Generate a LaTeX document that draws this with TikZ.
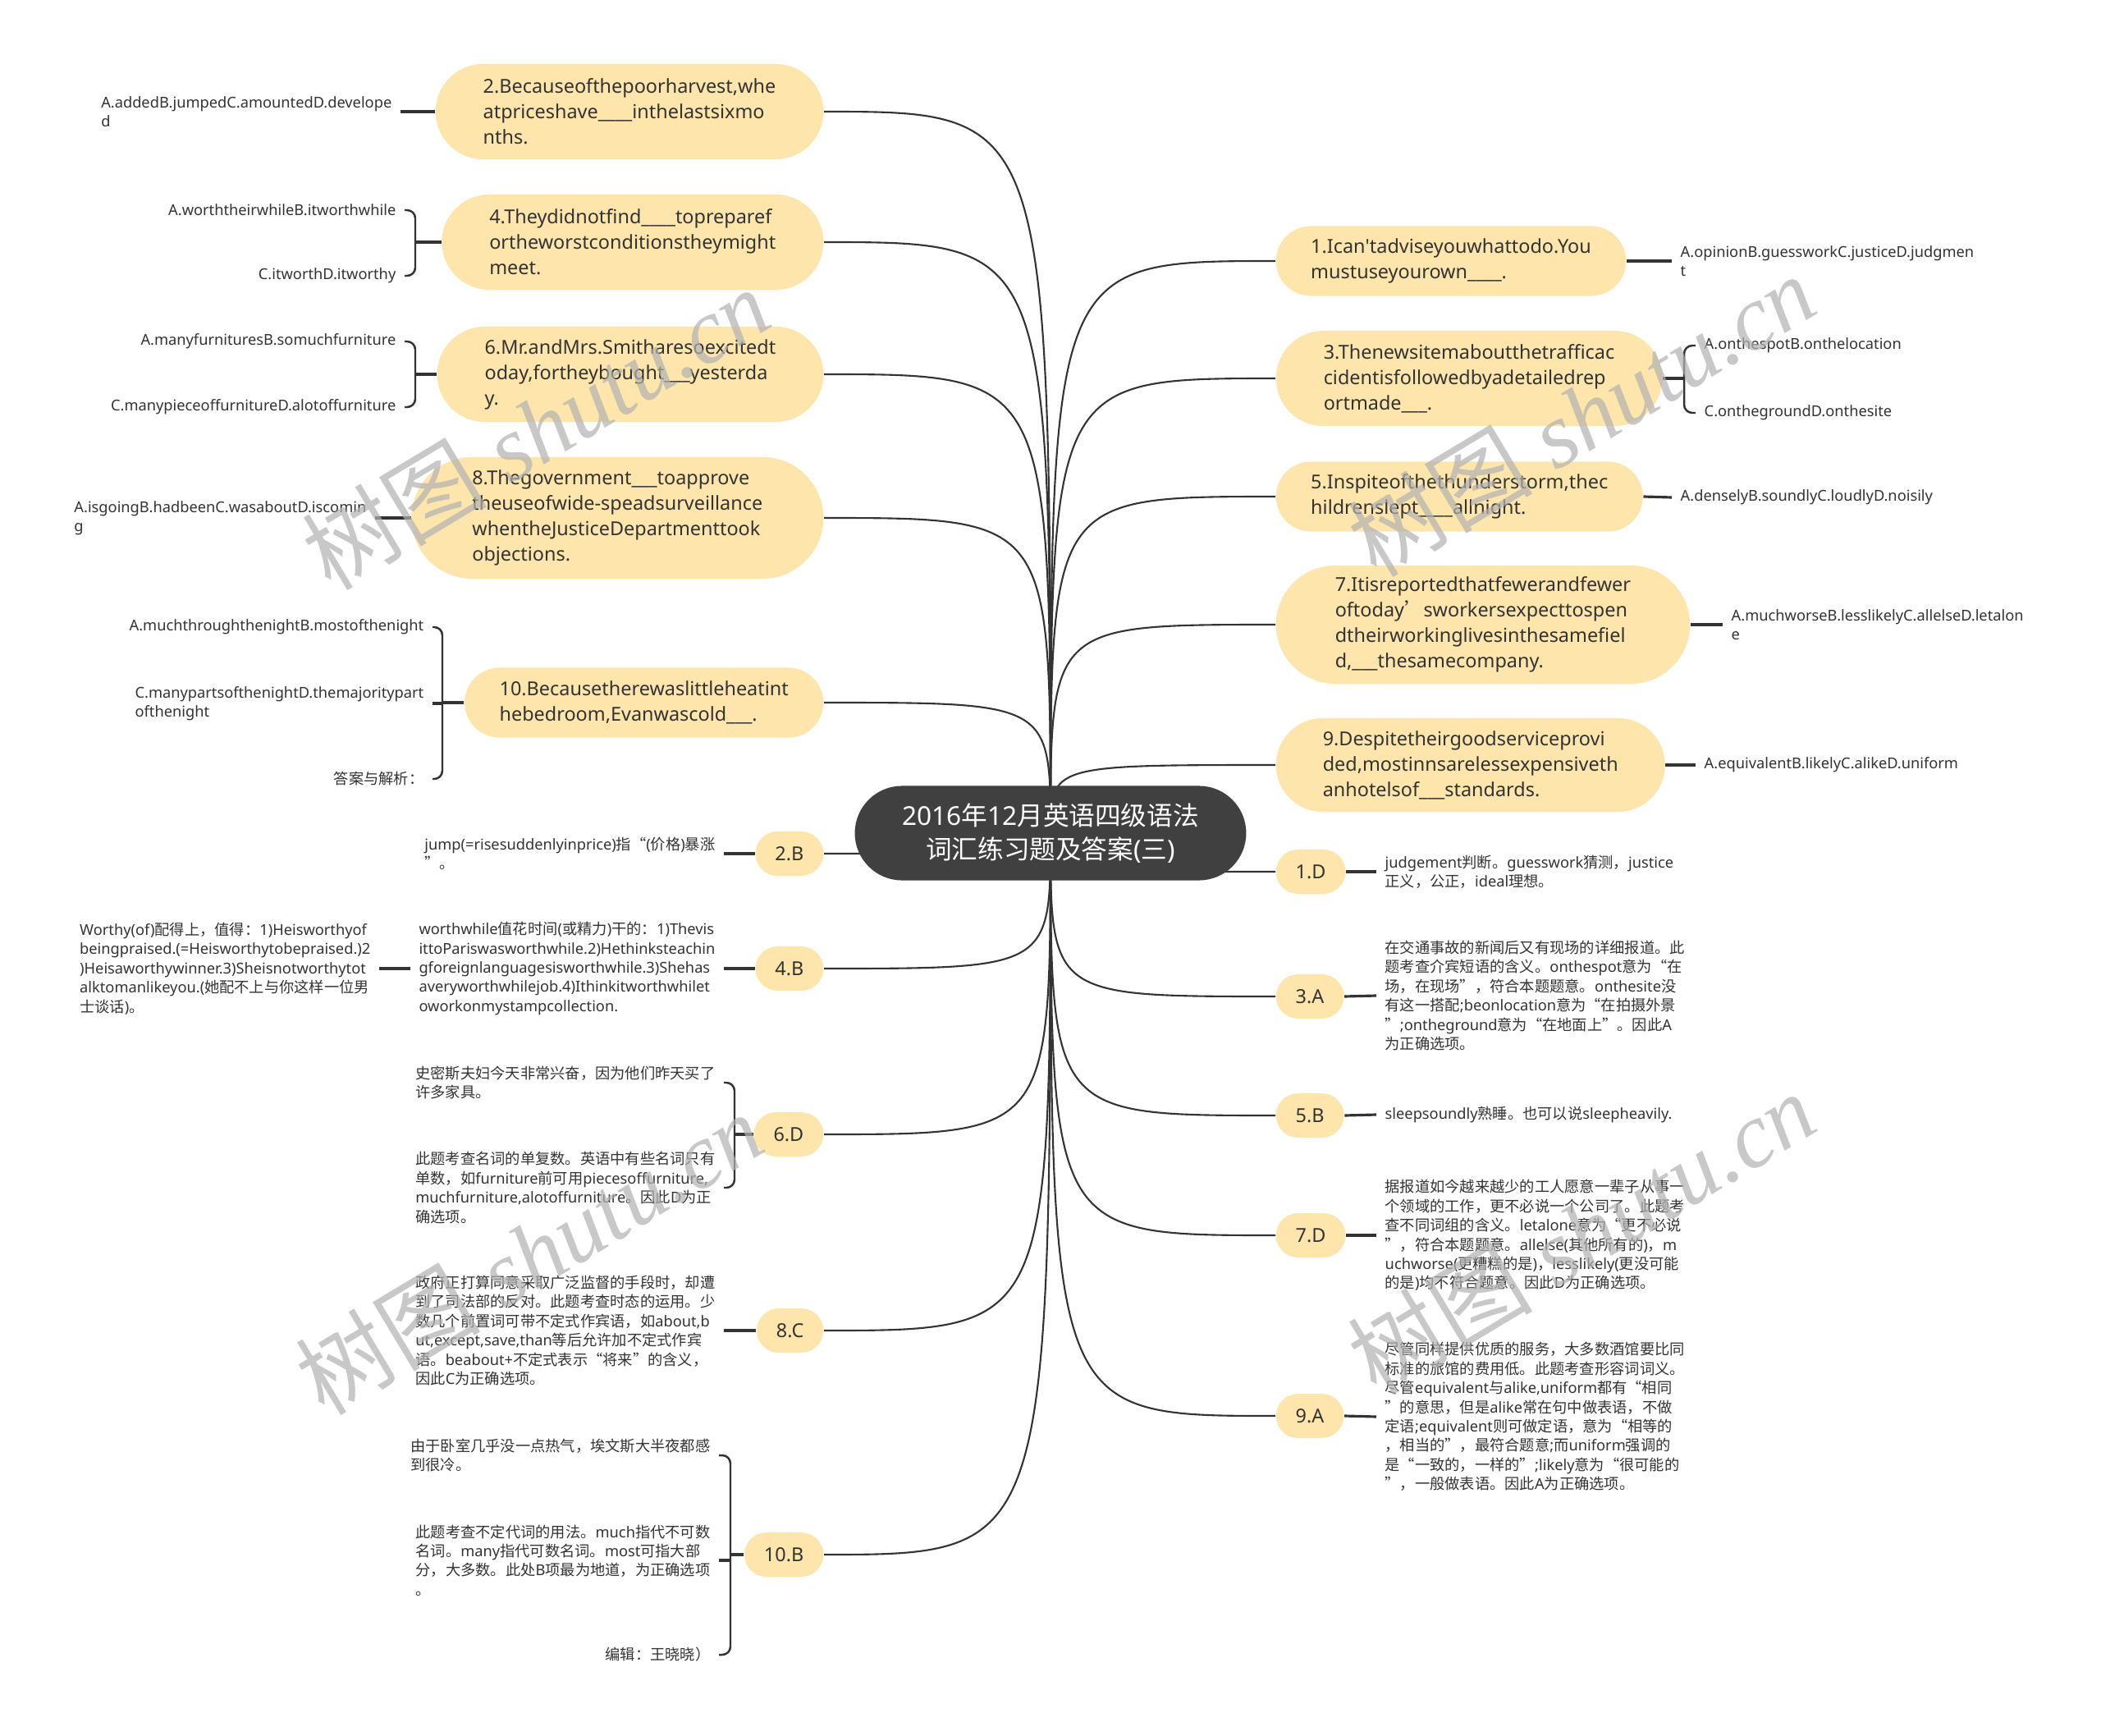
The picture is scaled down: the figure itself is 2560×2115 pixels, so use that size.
\documentclass[tikz,border=0pt]{standalone}
\usepackage{fontspec}
\setmainfont{Noto Sans}
\newfontfamily\latinfont{Noto Sans}
\newfontfamily\hanfont{Noto Sans CJK SC}
\newfontfamily\markfont{Liberation Serif}

% han characters switch to the CJK family by themselves
\newXeTeXintercharclass\hanclass
\newcount\hanchar
\newcommand\sethanrange[2]{\hanchar=#1\relax
  \loop\XeTeXcharclass\hanchar=\hanclass
  \ifnum\hanchar<#2\relax\advance\hanchar by 1\repeat}
\sethanrange{"3000}{"303F}
\sethanrange{"4E00}{"9FFF}
\sethanrange{"FF00}{"FFEF}
\sethanrange{"2018}{"201D}
\XeTeXinterchartoks 0 \hanclass = {\hanfont}
\XeTeXinterchartoks 4095 \hanclass = {\hanfont}
\XeTeXinterchartoks \hanclass 0 = {\latinfont}
\XeTeXinterchartoks 4095 0 = {\latinfont}
\XeTeXinterchartokenstate=1

\newcommand\rootsize{\fontsize{9pt}{11.6pt}\selectfont}
\newcommand\qsize{\fontsize{6.66pt}{8.8pt}\selectfont}
\newcommand\notesize{\fontsize{5.19pt}{6.66pt}\selectfont}
\newcommand\marksize{\XeTeXinterchartokenstate=0 \fontsize{32pt}{32pt}\selectfont}

\definecolor{qfill}{RGB}{253,229,172}
\definecolor{rootfill}{RGB}{64,64,64}
\definecolor{ink}{RGB}{51,51,51}
\definecolor{wire}{RGB}{51,51,51}

\pgfdeclarelayer{bg}
\pgfsetlayers{bg,main}

\begin{document}
\begin{tikzpicture}
[x=0.01cm,y=-0.01cm,
 qbox/.style={fill=qfill,text=ink,font=\qsize,align=left,rounded corners=#1,inner xsep=#1,inner ysep=0pt,minimum height=2*#1},
 abox/.style={fill=qfill,text=ink,font=\qsize,rounded corners=0.27cm,inner xsep=0.24cm,inner ysep=0pt,minimum height=0.54cm},
 note/.style={text=ink,font=\notesize,align=left,inner xsep=0.1cm,inner ysep=0pt},
 link/.style={draw=wire,line width=0.6pt},
 stub/.style={draw=wire,line width=0.9pt},
 bracket/.style={draw=wire,line width=0.7pt,rounded corners=0.1cm},
 wmark/.style={text=black!30,text opacity=0.7,font=\marksize}]
\useasboundingbox (0,0) rectangle (2560,2115);

\node[fill=rootfill,text=white,font=\rootsize,align=center,rounded corners=0.575cm,inner xsep=0.575cm,inner ysep=0pt,minimum height=1.15cm] (root) at (1280,1015) {2016年12月英语四级语法\\词汇练习题及答案(三)};

% questions
\node[qbox=0.425cm,anchor=west] (q1) at (1554,318) {1.Ican\textquotesingle tadviseyouwhattodo.You\\mustuseyourown\_\_\_\_.};
\node[qbox=0.58cm,anchor=west] (q3) at (1554,461) {3.Thenewsitemaboutthetrafficac\\cidentisfollowedbyadetailedrep\\ortmade\_\_\_.};
\node[qbox=0.425cm,anchor=west] (q5) at (1554,605) {5.Inspiteofthethunderstorm,thec\\hildrenslept\_\_\_\_allnight.};
\node[qbox=0.72cm,anchor=west] (q7) at (1554,761) {7.Itisreportedthatfewerandfewer\\oftoday’sworkersexpecttospen\\dtheirworkinglivesinthesamefiel\\d,\_\_\_thesamecompany.};
\node[qbox=0.57cm,anchor=west] (q9) at (1554,932) {9.Despitetheirgoodserviceprovi\\ded,mostinnsarelessexpensiveth\\anhotelsof\_\_\_standards.};
\node[qbox=0.58cm,anchor=east] (q2) at (1004,136) {2.Becauseofthepoorharvest,whe\\atpriceshave\_\_\_\_inthelastsixmo\\nths.};
\node[qbox=0.58cm,anchor=east] (q4) at (1004,295) {4.Theydidnotfind\_\_\_\_topreparef\\ortheworstconditionstheymight\\meet.};
\node[qbox=0.58cm,anchor=east] (q6) at (1004,456) {6.Mr.andMrs.Smitharesoexcitedt\\oday,fortheybought\_\_\_yesterda\\y.};
\node[qbox=0.74cm,anchor=east] (q8) at (1004,631) {8.Thegovernment\_\_\_toapprove\\theuseofwide-speadsurveillance\\whentheJusticeDepartmenttook\\objections.};
\node[qbox=0.425cm,anchor=east] (q10) at (1004,856) {10.Becausetherewaslittleheatint\\hebedroom,Evanwascold\_\_\_.};

% options
\node[note,anchor=west] (o1) at (2037,318) {A.opinionB.guessworkC.justiceD.judgmen\\t};
\node[note,anchor=west] (o3a) at (2066,421) {A.onthespotB.onthelocation};
\node[note,anchor=west] (o3b) at (2066,503) {C.onthegroundD.onthesite};
\node[note,anchor=west] (o5) at (2037,606) {A.denselyB.soundlyC.loudlyD.noisily};
\node[note,anchor=west] (o7) at (2099,761) {A.muchworseB.lesslikelyC.allelseD.letalon\\e};
\node[note,anchor=west] (o9) at (2066,932) {A.equivalentB.likelyC.alikeD.uniform};
\node[note,anchor=east] (o2) at (488,136) {A.addedB.jumpedC.amountedD.develope\\d};
\node[note,anchor=east] (o4a) at (493,256) {A.worththeirwhileB.itworthwhile};
\node[note,anchor=east] (o4b) at (493,336) {C.itworthD.itworthy};
\node[note,anchor=east] (o6a) at (493,416) {A.manyfurnituresB.somuchfurniture};
\node[note,anchor=east] (o6b) at (493,496) {C.manypieceoffurnitureD.alotoffurniture};
\node[note,anchor=east] (o8) at (457,631) {A.isgoingB.hadbeenC.wasaboutD.iscomin\\g};
\node[note,anchor=east] (o10a) at (527,764) {A.muchthroughthenightB.mostofthenight};
\node[note,anchor=east] (o10b) at (527,857) {C.manypartsofthenightD.themajoritypart\\ofthenight};
\node[note,anchor=east] (o10c) at (527,949) {答案与解析：};
\coordinate (br3) at (2052,461);
\coordinate (br4) at (506,295);
\coordinate (br6) at (506,456);
\coordinate (br10) at (539,856);

% answers
\node[abox,anchor=west] (a1) at (1554,1062) {1.D};
\node[abox,anchor=west] (a3) at (1554,1214) {3.A};
\node[abox,anchor=west] (a5) at (1554,1359) {5.B};
\node[abox,anchor=west] (a7) at (1554,1505) {7.D};
\node[abox,anchor=west] (a9) at (1554,1725) {9.A};
\node[abox,anchor=east] (a2) at (1004,1040) {2.B};
\node[abox,anchor=east] (a4) at (1004,1180) {4.B};
\node[abox,anchor=east] (a6) at (1004,1382) {6.D};
\node[abox,anchor=east] (a8) at (1004,1621) {8.C};
\node[abox,anchor=east] (a10) at (1004,1894) {10.B};

% explanations
\node[note,anchor=west] (n1) at (1677,1062) {judgement判断。guesswork猜测，justice\\正义，公正，ideal理想。};
\node[note,anchor=west] (n3) at (1677,1213) {在交通事故的新闻后又有现场的详细报道。此\\题考查介宾短语的含义。onthespot意为“在\\场，在现场”，符合本题题意。onthesite没\\有这一搭配;beonlocation意为“在拍摄外景\\”;ontheground意为“在地面上”。因此A\\为正确选项。};
\node[note,anchor=west] (n5) at (1677,1358) {sleepsoundly熟睡。也可以说sleepheavily.};
\node[note,anchor=west] (n7) at (1677,1505) {据报道如今越来越少的工人愿意一辈子从事一\\个领域的工作，更不必说一个公司了。此题考\\查不同词组的含义。letalone意为“更不必说\\”，符合本题题意。allelse(其他所有的)，m\\uchworse(更糟糕的是)，lesslikely(更没可能\\的是)均不符合题意。因此D为正确选项。};
\node[note,anchor=west] (n9) at (1677,1726) {尽管同样提供优质的服务，大多数酒馆要比同\\标准的旅馆的费用低。此题考查形容词词义。\\尽管equivalent与alike,uniform都有“相同\\”的意思，但是alike常在句中做表语，不做\\定语;equivalent则可做定语，意为“相等的\\，相当的”，最符合题意;而uniform强调的\\是“一致的，一样的”;likely意为“很可能的\\”，一般做表语。因此A为正确选项。};
\node[note,anchor=east] (n2) at (882,1040) {jump(=risesuddenlyinprice)指“(价格)暴涨\\”。};
\node[note,anchor=east] (n4) at (882,1180) {worthwhile值花时间(或精力)干的：1)Thevis\\ittoPariswasworthwhile.2)Hethinksteachin\\gforeignlanguagesisworthwhile.3)Shehas\\averyworthwhilejob.4)Ithinkitworthwhilet\\oworkonmystampcollection.};
\node[note,anchor=east] (n4b) at (462,1180) {Worthy(of)配得上，值得：1)Heisworthyof\\beingpraised.(=Heisworthytobepraised.)2\\)Heisaworthywinner.3)Sheisnotworthytot\\alktomanlikeyou.(她配不上与你这样一位男\\士谈话)。};
\node[note,anchor=east] (n6a) at (882,1319) {史密斯夫妇今天非常兴奋，因为他们昨天买了\\许多家具。};
\node[note,anchor=east] (n6b) at (882,1447) {此题考查名词的单复数。英语中有些名词只有\\单数，如furniture前可用piecesoffurniture,\\muchfurniture,alotoffurniture。因此D为正\\确选项。};
\node[note,anchor=east] (n8) at (882,1621) {政府正打算同意采取广泛监督的手段时，却遭\\到了司法部的反对。此题考查时态的运用。少\\数几个前置词可带不定式作宾语，如about,b\\ut,except,save,than等后允许加不定式作宾\\语。beabout+不定式表示“将来”的含义，\\因此C为正确选项。};
\node[note,anchor=east] (n10a) at (876,1773) {由于卧室几乎没一点热气，埃文斯大半夜都感\\到很冷。};
\node[note,anchor=east] (n10b) at (876,1901) {此题考查不定代词的用法。much指代不可数\\名词。many指代可数名词。most可指大部\\分，大多数。此处B项最为地道，为正确选项\\。};
\node[note,anchor=east] (n10c) at (876,2016) {编辑：王晓晓）};
\coordinate (br6n) at (895,1382);
\coordinate (br10n) at (890,1894);

\begin{pgfonlayer}{bg}
\fill[white] (0,0) rectangle (2560,2115);
\foreach \n in {q1,q3,q5,q7,q9,a1,a3,a5,a7,a9}
  \draw[link] (root.center) .. controls (root.center |- \n.west) .. (\n.west);
\foreach \n in {q2,q4,q6,q8,q10,a2,a4,a6,a8,a10}
  \draw[link] (root.center) .. controls (root.center |- \n.east) .. (\n.east);
\draw[stub] (q1.east) -- (o1.west);
\draw[stub] (q3.east) -- (br3);
\draw[bracket] (o3a.west) -| (br3) |- (o3b.west);
\draw[stub] (q5.east) -- (o5.west);
\draw[stub] (q7.east) -- (o7.west);
\draw[stub] (q9.east) -- (o9.west);
\draw[stub] (q2.west) -- (o2.east);
\draw[stub] (q4.west) -- (br4);
\draw[bracket] (o4a.east) -| (br4) |- (o4b.east);
\draw[stub] (q6.west) -- (br6);
\draw[bracket] (o6a.east) -| (br6) |- (o6b.east);
\draw[stub] (q8.west) -- (o8.east);
\draw[stub] (q10.west) -- (br10);
\draw[bracket] (o10a.east) -| (br10) |- (o10c.east);
\draw[stub] (o10b.east) -- (o10b.east -| br10);
\draw[stub] (a1.east) -- (n1.west);
\draw[stub] (a3.east) -- (n3.west);
\draw[stub] (a5.east) -- (n5.west);
\draw[stub] (a7.east) -- (n7.west);
\draw[stub] (a9.east) -- (n9.west);
\draw[stub] (a2.west) -- (n2.east);
\draw[stub] (a4.west) -- (n4.east);
\draw[stub] (n4.west) -- (n4b.east);
\draw[stub] (a6.west) -- (br6n);
\draw[bracket] (n6a.east) -| (br6n) |- (n6b.east);
\draw[stub] (a8.west) -- (n8.east);
\draw[stub] (a10.west) -- (br10n);
\draw[bracket] (n10a.east) -| (br10n) |- (n10c.east);
\draw[stub] (n10b.east) -- (n10b.east -| br10n);
\end{pgfonlayer}

% watermark
\node[wmark,rotate=31] (wm1) at (653,522) {{\hanfont 树图} {\markfont\itshape shutu.cn}};
\node[wmark,rotate=31] (wm2) at (1927,506) {{\hanfont 树图} {\markfont\itshape shutu.cn}};
\node[wmark,rotate=31] (wm3) at (645,1527) {{\hanfont 树图} {\markfont\itshape shutu.cn}};
\node[wmark,rotate=31] (wm4) at (1927,1502) {{\hanfont 树图} {\markfont\itshape shutu.cn}};
\end{tikzpicture}
\end{document}
